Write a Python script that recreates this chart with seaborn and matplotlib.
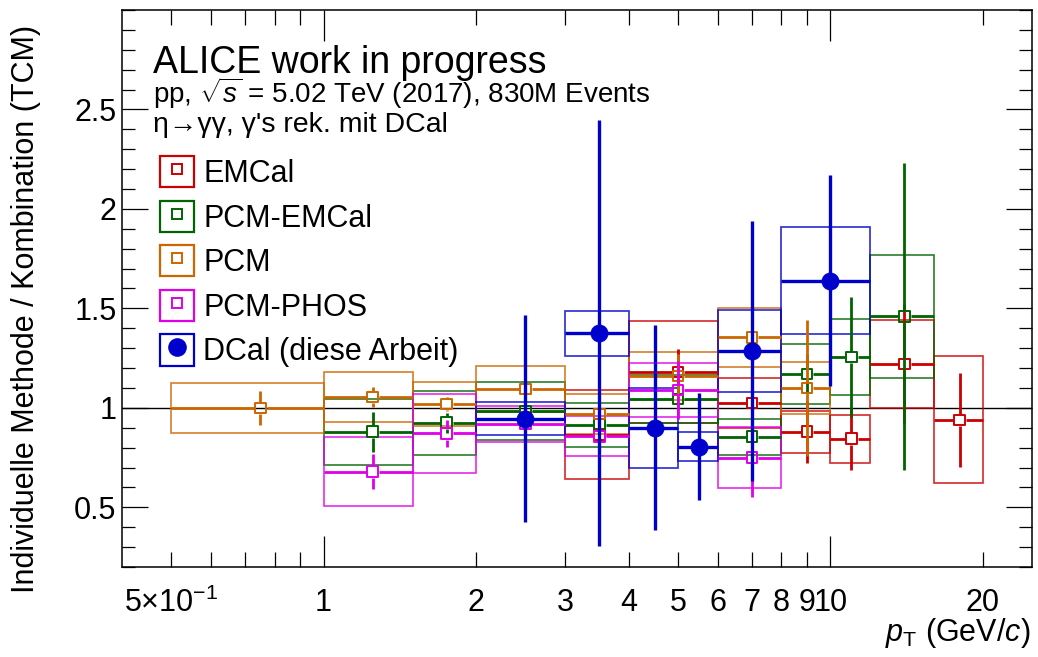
import numpy as np
import pandas as pd
import matplotlib
matplotlib.use("Agg")
import matplotlib.pyplot as plt
import seaborn as sns
from matplotlib.patches import Rectangle
from matplotlib.lines import Line2D
from matplotlib.collections import LineCollection
from matplotlib.legend_handler import HandlerTuple
from matplotlib.ticker import FixedLocator, FuncFormatter, NullFormatter

# ---------------- data: ratio of each method to the combined (TCM) fit ----------------
# EMCal
emcal_lo = [3, 4, 6, 8, 10, 12, 16]
emcal_hi = [4, 6, 8, 10, 12, 16, 20]
emcal_val = [0.865, 1.18, 1.025, 0.88, 0.845, 1.22, 0.94]
emcal_stat = [0.03, 0.115, 0.06, 0.155, 0.155, 0.30, 0.235]
emcal_syst = [0.225, 0.255, 0.125, 0.105, 0.12, 0.22, 0.32]

# PCM-EMCal
pcmemc_lo = [1, 1.5, 2, 3, 4, 6, 8, 10, 12]
pcmemc_hi = [1.5, 2, 3, 4, 6, 8, 10, 12, 16]
pcmemc_val = [0.88, 0.925, 0.985, 0.915, 1.045, 0.855, 1.17, 1.255, 1.46]
pcmemc_stat = [0.10, 0.05, 0.03, 0.03, 0.04, 0.04, 0.10, 0.30, 0.77]
pcmemc_syst = [0.165, 0.16, 0.145, 0.11, 0.12, 0.09, 0.15, 0.19, 0.31]

# PCM
pcm_lo = [0.5, 1, 1.5, 2, 3, 4, 6, 8]
pcm_hi = [1, 1.5, 2, 3, 4, 6, 8, 10]
pcm_val = [1.0, 1.055, 1.02, 1.095, 0.97, 1.16, 1.355, 1.10]
pcm_stat = [0.085, 0.05, 0.035, 0.03, 0.03, 0.11, 0.10, 0.34]
pcm_syst = [0.125, 0.125, 0.11, 0.115, 0.10, 0.12, 0.148, 0.13]

# PCM-PHOS
pcmphos_lo = [1, 1.5, 2, 3, 4, 6]
pcmphos_hi = [1.5, 2, 3, 4, 6, 8]
pcmphos_val = [0.68, 0.872, 0.92, 0.857, 1.09, 0.75]
pcmphos_stat = [0.087, 0.067, 0.03, 0.02, 0.145, 0.20]
pcmphos_syst = [0.172, 0.20, 0.09, 0.10, 0.135, 0.152]

# DCal (this work)
dcal_lo = [2, 3, 4, 5, 6, 8]
dcal_hi = [3, 4, 5, 6, 8, 12]
dcal_val = [0.945, 1.375, 0.90, 0.805, 1.285, 1.64]
dcal_stat = [0.52, 1.07, 0.515, 0.27, 0.655, 0.53]
dcal_syst = [0.083, 0.113, 0.20, 0.072, 0.205, 0.27]

method_names = ["EMCal", "PCM-EMCal", "PCM", "PCM-PHOS", "DCal (diese Arbeit)"]

x_major = [1, 10]
x_minor = [0.5, 0.6, 0.7, 0.8, 0.9, 2, 3, 4, 5, 6, 7, 8, 9, 20]
x_minor_labeled = [0.5, 2, 3, 4, 5, 6, 7, 8, 9, 20]
y_major = [0.5, 1.0, 1.5, 2.0, 2.5]

# ---------------- style ----------------
sns.set_theme(style="ticks")
plt.rcParams["font.family"] = ["Liberation Sans", "DejaVu Sans"]
plt.rcParams["mathtext.fontset"] = "custom"
plt.rcParams["mathtext.rm"] = "Liberation Sans"
plt.rcParams["mathtext.it"] = "Liberation Sans:italic"
plt.rcParams["mathtext.bf"] = "Liberation Sans:bold"
plt.rcParams["axes.unicode_minus"] = True
plt.rcParams["text.color"] = "black"
plt.rcParams["axes.labelcolor"] = "black"
plt.rcParams["xtick.color"] = "black"
plt.rcParams["ytick.color"] = "black"

DPI = 100
fig = plt.figure(figsize=(10.38, 6.57), dpi=DPI)
fig.patch.set_facecolor("white")
ax = fig.add_axes([0.1175, 0.137, 0.8767, 0.8478])
ax.set_facecolor("white")
ax.set_xscale("log")
ax.set_xlim(0.4, 25)
ax.set_ylim(0.2, 3.0)

series = [
    dict(name=method_names[0], lo=emcal_lo, hi=emcal_hi, val=emcal_val, stat=emcal_stat,
         syst=emcal_syst, color="#cc0000", marker="s"),
    dict(name=method_names[1], lo=pcmemc_lo, hi=pcmemc_hi, val=pcmemc_val, stat=pcmemc_stat,
         syst=pcmemc_syst, color="#006400", marker="s"),
    dict(name=method_names[2], lo=pcm_lo, hi=pcm_hi, val=pcm_val, stat=pcm_stat,
         syst=pcm_syst, color="#cc6600", marker="s"),
    dict(name=method_names[3], lo=pcmphos_lo, hi=pcmphos_hi, val=pcmphos_val, stat=pcmphos_stat,
         syst=pcmphos_syst, color="#e000e8", marker="s"),
    dict(name=method_names[4], lo=dcal_lo, hi=dcal_hi, val=dcal_val, stat=dcal_stat,
         syst=dcal_syst, color="#0000cc", marker="o"),
]

SQ_MS = 7.6      # open square size (pt)
DOT_MS = 12.4    # filled circle size (pt)
BOX_LW = 1.25
ERR_LW = 2.0

ax.axhline(1.0, color="black", lw=1.0, zorder=1)

# systematic uncertainty boxes
for s in series:
    for lo, hi, v, sy in zip(s["lo"], s["hi"], s["val"], s["syst"]):
        ax.add_patch(Rectangle((lo, v - sy), hi - lo, 2 * sy, fill=False,
                               edgecolor=s["color"], lw=BOX_LW, alpha=0.8, zorder=2))

# statistical error bars (kept clear of the open markers) and markers
T = ax.transData
inv = T.inverted()
z = 3
for s in series:
    open_marker = s["marker"] == "s"
    gap = (SQ_MS * DPI / 72.0) / 2 + 1.0 if open_marker else 0.0
    segs = []
    xc = [(lo + hi) / 2 for lo, hi in zip(s["lo"], s["hi"])]
    for x, lo, hi, v, st in zip(xc, s["lo"], s["hi"], s["val"], s["stat"]):
        px, py = T.transform((x, v))
        xl = inv.transform((px - gap, py))[0]
        xr = inv.transform((px + gap, py))[0]
        yb = inv.transform((px, py - gap))[1]
        yt = inv.transform((px, py + gap))[1]
        segs.append([(lo, v), (xl, v)])
        segs.append([(xr, v), (hi, v)])
        if v - st < yb:
            segs.append([(x, v - st), (x, yb)])
        if v + st > yt:
            segs.append([(x, yt), (x, v + st)])
    lw = ERR_LW + (0.4 if not open_marker else 0.0)
    ax.add_collection(LineCollection(segs, colors=s["color"], linewidths=lw,
                                     capstyle="butt", zorder=z))
    df = pd.DataFrame({"pt": xc, "ratio": s["val"]})
    if open_marker:
        sns.scatterplot(data=df, x="pt", y="ratio", ax=ax, marker="s", s=SQ_MS ** 2,
                        facecolor="none", edgecolor=s["color"], linewidth=1.4,
                        zorder=z + 1, legend=False)
    else:
        sns.scatterplot(data=df, x="pt", y="ratio", ax=ax, marker="o", s=DOT_MS ** 2,
                        color=s["color"], edgecolor=s["color"], linewidth=0.5,
                        zorder=z + 1, legend=False)
    z += 2

ax.set_xscale("log")
ax.set_xlim(0.4, 25)
ax.set_ylim(0.2, 3.0)

# ---------------- axes / ticks ----------------
for sp in ax.spines.values():
    sp.set_linewidth(1.1)
    sp.set_color("black")
    sp.set_visible(True)

ax.xaxis.set_major_locator(FixedLocator(x_major))
ax.xaxis.set_minor_locator(FixedLocator(x_minor))
ax.xaxis.set_major_formatter(FuncFormatter(lambda v, p: "%g" % v))


def minor_fmt(v, p):
    if abs(v - 0.5) < 1e-9:
        return r"$5{\times}10^{-1}$"
    for m in x_minor_labeled:
        if abs(v - m) < 1e-9:
            return "%g" % v
    return ""


ax.xaxis.set_minor_formatter(FuncFormatter(minor_fmt))
ax.yaxis.set_major_locator(FixedLocator(y_major))
ax.yaxis.set_minor_locator(FixedLocator(np.round(np.arange(0.2, 3.001, 0.1), 2)))
ax.yaxis.set_major_formatter(FuncFormatter(lambda v, p: "%g" % v))
ax.yaxis.set_minor_formatter(NullFormatter())

ax.tick_params(axis="both", which="both", direction="in", top=True, right=True,
               color="black", width=0.9, labelsize=22, labelcolor="black")
ax.tick_params(axis="x", which="major", length=22, pad=15)
ax.tick_params(axis="x", which="minor", length=11, pad=15)
ax.tick_params(axis="y", which="major", length=19, pad=4)
ax.tick_params(axis="y", which="minor", length=9.5)

ax.set_xlabel(r"$p_{\mathrm{T}}$ (GeV/$c$)", fontsize=22, loc="right", color="black")
ax.xaxis.set_label_coords(0.998, -0.088)
ax.set_ylabel("Individuelle Methode / Kombination (TCM)", fontsize=22, loc="top",
              color="black")
ax.yaxis.set_label_coords(-0.089, 0.973)

# ---------------- header text ----------------
fig.text(153 / 1038, 1 - 73 / 657, "ALICE work in progress", fontsize=27,
         va="baseline", ha="left", color="black")
fig.text(153 / 1038, 1 - 103 / 657, r"pp, $\sqrt{s}$ = 5.02 TeV (2017), 830M Events",
         fontsize=20, va="baseline", ha="left", color="black")
fig.text(153 / 1038, 1 - 132 / 657, "η→γγ, γ's rek. mit DCal",
         fontsize=20.5, va="baseline", ha="left", color="black")

# ---------------- legend ----------------
handles = []
for s in series:
    box = Rectangle((0, 0), 1, 1, fill=False, edgecolor=s["color"], lw=1.6)
    if s["marker"] == "s":
        mk = Line2D([], [], ls="none", marker="s", ms=SQ_MS, mfc="none",
                    mec=s["color"], mew=1.4)
    else:
        mk = Line2D([], [], ls="none", marker="o", ms=DOT_MS, mfc=s["color"],
                    mec=s["color"])
    handles.append((box, mk))

leg = ax.legend(handles, [s["name"] for s in series],
                handler_map={tuple: HandlerTuple(ndivide=1)},
                loc="upper left", bbox_to_anchor=(160 / 1038, 1 - 156 / 657),
                bbox_transform=fig.transFigure, frameon=False, fontsize=22,
                handlelength=1.1, handleheight=1.2, handletextpad=0.32,
                labelspacing=0.38, borderpad=0.0, borderaxespad=0.0)
for t in leg.get_texts():
    t.set_color("black")

fig.savefig("out.png", dpi=DPI, facecolor="white")
